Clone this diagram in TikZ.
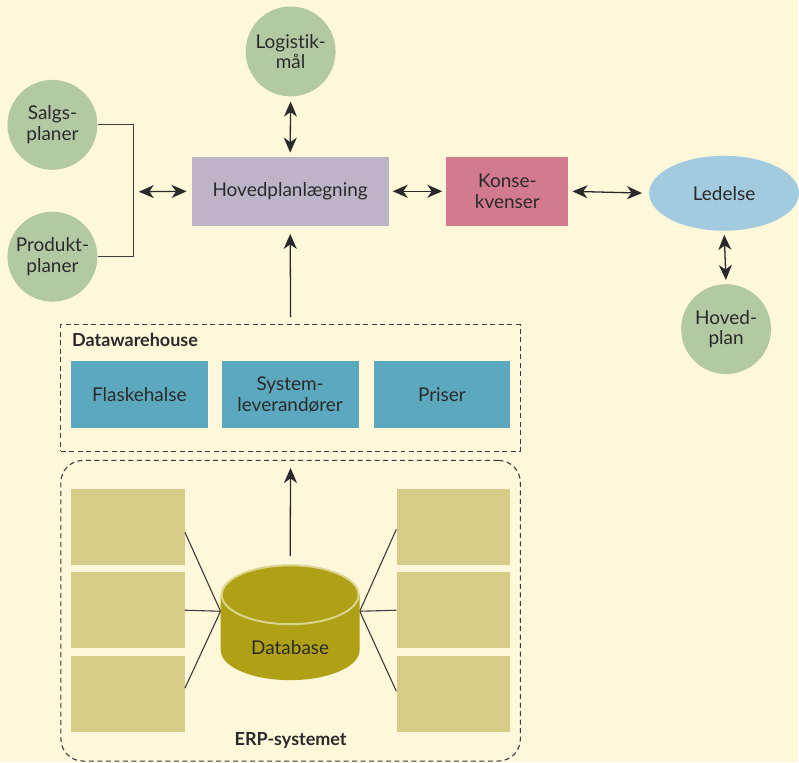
\documentclass[tikz,border=0pt]{standalone}
\usepackage{fontspec}
\setmainfont{Lato}[Ligatures=NoCommon]
\usetikzlibrary{arrows.meta,shapes.geometric}
\definecolor{bgcol}{HTML}{FEF7D9}
\definecolor{inkcol}{HTML}{2A2A2A}
\definecolor{linecol}{HTML}{3C3C3C}
\definecolor{leafcol}{HTML}{B3C9A3}
\definecolor{lilacol}{HTML}{BEB4C8}
\definecolor{rosecol}{HTML}{D27A8E}
\definecolor{skycol}{HTML}{A3CBE0}
\definecolor{tealcol}{HTML}{5CA8BE}
\definecolor{khakicol}{HTML}{D6CC88}
\definecolor{dbcol}{HTML}{AFA015}
\definecolor{dbrim}{HTML}{DCD38E}

\begin{document}
\begin{tikzpicture}[x=1pt,y=1pt,>={Stealth[length=15pt,width=13pt,inset=4.5pt]},
	txt/.style={text=inkcol,font=\fontsize{19}{20.5}\selectfont,align=center},
	blob/.style={txt,circle,fill=leafcol,minimum size=90pt,inner sep=0pt},
	panel/.style={txt,rectangle,minimum height=69pt,inner sep=0pt},
	dwbox/.style={txt,rectangle,fill=tealcol,minimum width=137pt,minimum height=68pt,inner sep=0pt},
	erpbox/.style={rectangle,fill=khakicol,minimum width=114pt,minimum height=76pt,inner sep=0pt},
	frame/.style={draw=linecol,line width=1.1pt,dash pattern=on 5pt off 3.5pt,inner sep=0pt},
	title/.style={text=inkcol,font=\bfseries\fontsize{18}{20}\selectfont,inner sep=0pt},
	link/.style={draw=inkcol,line width=1.3pt},
	dbl/.style={link,<->},
	one/.style={link,->},
	wire/.style={draw=linecol,line width=1.1pt}]
				\fill [bgcol] (0,0) rectangle (799,-763);
				\node [blob] (log) at (291,-51.5) {Logistik-\\mål};
				\node [blob] (salg) at (52.5,-125) {Salgs-\\planer};
				\node [blob] (prod) at (52.5,-257) {Produkt-\\planer};
				\node [blob] (hplan) at (727,-329.5) {Hoved-\\plan};
				\node [panel,fill=lilacol,minimum width=197pt] (hp) at (290.5,-191.5) {Hovedplanlægning};
				\node [panel,fill=rosecol,minimum width=122pt] (kons) at (508,-191.5) {Konse-\\kvenser};
				\node [txt,ellipse,fill=skycol,minimum width=150pt,minimum height=75pt,inner sep=0pt] (led) at (725,-193.5) {Ledelse};
				\coordinate (brk) at (134,-192);
				\draw [wire] (salg.east) -| (brk) |- (prod.east);
				\draw [dbl,shorten <=5pt,shorten >=5pt] (brk) -- (hp.west);
				\draw [dbl,shorten <=5pt,shorten >=4pt] (log.south) -- (hp.north);
				\draw [dbl,shorten <=4pt,shorten >=4pt] (hp.east) -- (kons.west);
				\draw [dbl,shorten <=4pt,shorten >=7pt] (kons.east) -- (led.west);
				\draw [dbl,shorten <=4pt,shorten >=4pt] (led.south) -- (hplan.north);
				\node [frame,rectangle,minimum width=460pt,minimum height=127pt] (dw) at (291,-388.5) {};
				\node [title,anchor=west] (dwlabel) at (72,-340) {Datawarehouse};
				\node [dwbox] (flask) at (139.5,-395) {Flaskehalse};
				\node [dwbox] (lev) at (290.5,-395) {System-\\leverandører};
				\node [dwbox] (pris) at (442.5,-395) {Priser};
				\draw [one,shorten <=7pt,shorten >=8pt] (dw.north) -- (hp.south);
				\node [frame,rectangle,rounded corners=22pt,minimum width=460pt,minimum height=301pt] (erp) at (291,-611.5) {};
				\node [title] (erplabel) at (291,-741) {ERP-systemet};
				\node [erpbox] (l1) at (128,-528) {};
				\node [erpbox] (l2) at (128,-611) {};
				\node [erpbox] (l3) at (128,-695) {};
				\node [erpbox] (r1) at (454,-528) {};
				\node [erpbox] (r2) at (454,-611) {};
				\node [erpbox] (r3) at (454,-695) {};
				\node [minimum width=139pt,minimum height=94pt,inner sep=0pt] (db) at (290.5,-612) {};
				\draw [wire] ([yshift=-5pt]l1.east) -- (db.west);
				\draw [wire] (l2.east) -- (db.west);
				\draw [wire] ([yshift=6pt]l3.east) -- (db.west);
				\draw [wire] ([yshift=-2pt]r1.west) -- (db.east);
				\draw [wire] (r2.west) -- (db.east);
				\draw [wire] ([yshift=3pt]r3.west) -- (db.east);
				\fill [dbcol] (221,-595.5) -- (221,-651) arc [start angle=180,end angle=360,x radius=69.5,y radius=30] -- (360,-595.5) -- cycle;
				\filldraw [fill=dbcol,draw=dbrim,line width=2pt] (290.5,-595.5) ellipse [x radius=68.5,y radius=29.5];
				\node [txt] (dblabel) at (290.5,-648) {Database};
				\draw [one,shorten <=8pt,shorten >=16pt] (db.north) -- (dw.south);
			\end{tikzpicture}
\end{document}
